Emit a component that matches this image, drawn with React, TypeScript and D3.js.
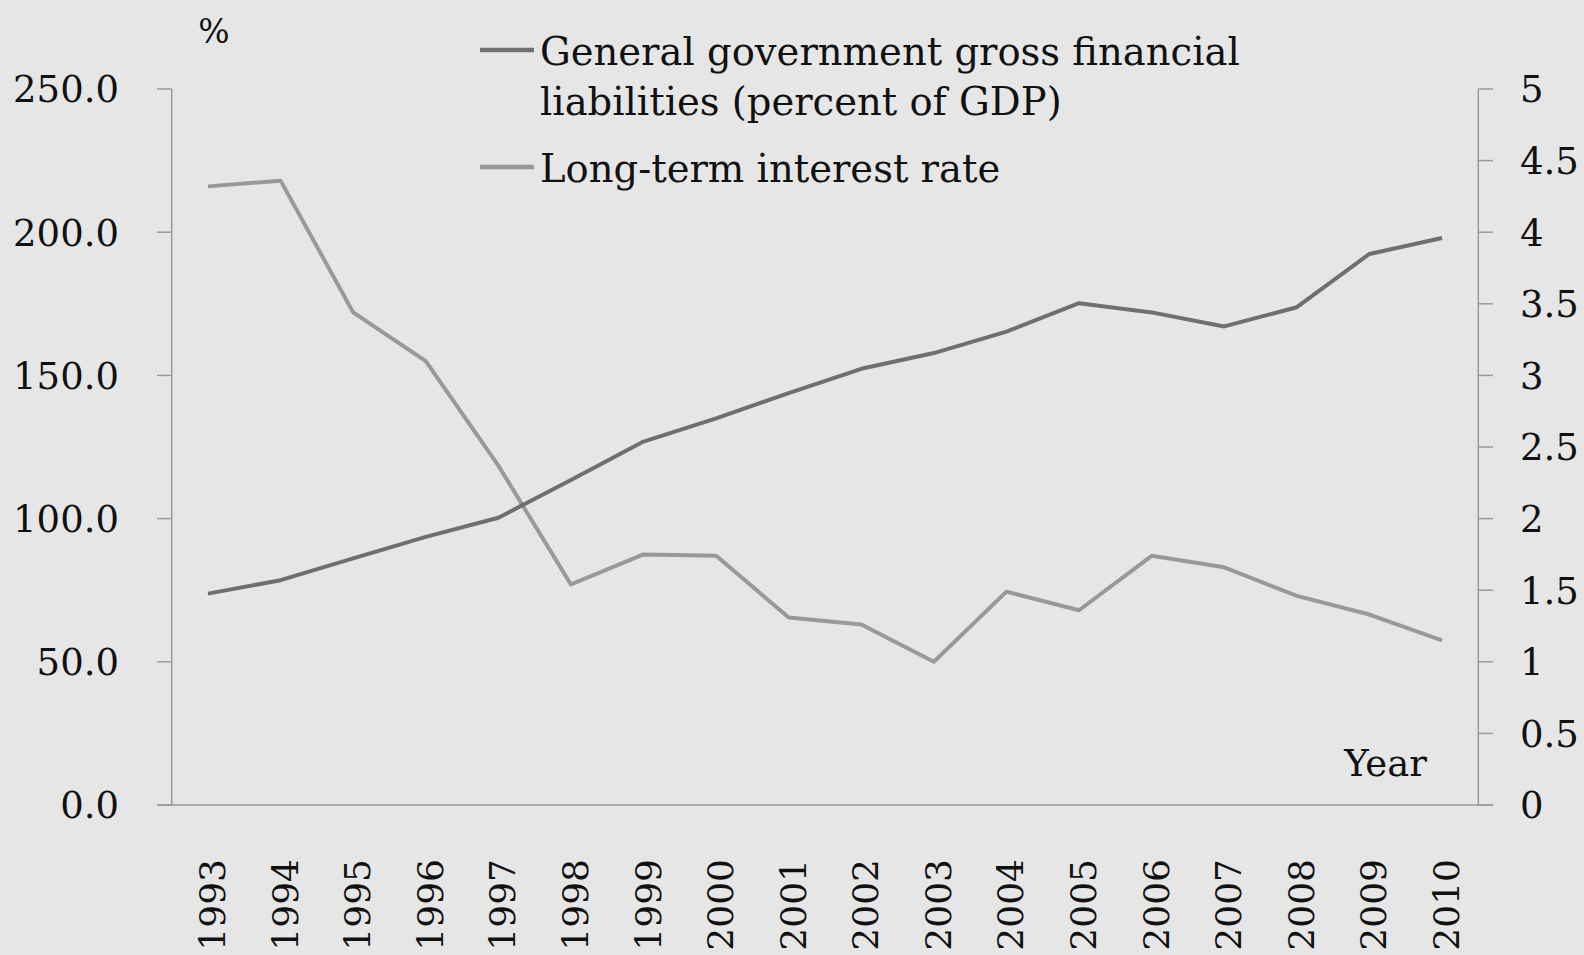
import React from "react";
import * as d3 from "d3";

const years = ["1993","1994","1995","1996","1997","1998","1999","2000","2001","2002","2003","2004","2005","2006","2007","2008","2009","2010"];
const debt = [73.8, 78.5, 86.1, 93.6, 100.3, 113.5, 126.9, 135.0, 143.8, 152.3, 157.8, 165.3, 175.2, 172.0, 167.1, 173.8, 192.4, 198.0];
const rate = [4.32, 4.36, 3.44, 3.10, 2.37, 1.54, 1.75, 1.74, 1.31, 1.26, 1.00, 1.49, 1.36, 1.74, 1.66, 1.46, 1.33, 1.15];
const leftTicks = [0, 50, 100, 150, 200, 250];
const rightTicks = [0, 0.5, 1, 1.5, 2, 2.5, 3, 3.5, 4, 4.5, 5];
const legendLines = [
  { label: ["General government gross financial", "liabilities (percent of GDP)"], color: "#6f6f6f" },
  { label: ["Long-term interest rate"], color: "#999999" },
];

const W = 1584, H = 955;
const L = 171.7, R = 1478.3, T = 89, B = 805;
const FONT = "'DejaVu Serif', serif";

export default function App() {
  const x = d3.scalePoint<string>().domain(years).range([L, R]).padding(0.5);
  const yL = d3.scaleLinear().domain([0, 250]).range([B, T]);
  const yR = d3.scaleLinear().domain([0, 5]).range([B, T]);
  const debtLine = d3.line<number>().x((_, i) => x(years[i])!).y(d => yL(d));
  const rateLine = d3.line<number>().x((_, i) => x(years[i])!).y(d => yR(d));
  const axisColor = "#9a9a9a";

  return (
    <svg width={W} height={H} style={{ position: "absolute", left: 0, top: 0, background: "#e6e6e6" }} fontFamily={FONT}>
      <rect x={0} y={0} width={W} height={H} fill="#e6e6e6" />
      {/* left axis */}
      <line x1={L} x2={L} y1={T} y2={B} stroke={axisColor} strokeWidth={1.5} />
      {leftTicks.map(t => (
        <g key={"l" + t}>
          <line x1={157} x2={L} y1={yL(t)} y2={yL(t)} stroke={axisColor} strokeWidth={1.5} />
          <text x={119} y={yL(t)} dy="0.36em" textAnchor="end" fontSize={37} fill="#111">{t.toFixed(1)}</text>
        </g>
      ))}
      {/* right axis */}
      <line x1={R} x2={R} y1={T} y2={B} stroke={axisColor} strokeWidth={1.5} />
      {rightTicks.map(t => (
        <g key={"r" + t}>
          <line x1={R} x2={1493} y1={yR(t)} y2={yR(t)} stroke={axisColor} strokeWidth={1.5} />
          <text x={1520} y={yR(t)} dy="0.36em" textAnchor="start" fontSize={37} fill="#111">{String(t)}</text>
        </g>
      ))}
      {/* bottom axis */}
      <line x1={157} x2={1493} y1={B} y2={B} stroke={axisColor} strokeWidth={1.5} />
      {years.map(yr => (
        <text key={yr} transform={`translate(${x(yr)! + 17},859) rotate(-90)`} textAnchor="end" fontSize={36} fill="#111">{yr}</text>
      ))}
      {/* series */}
      <path d={rateLine(rate)!} fill="none" stroke={legendLines[1].color} strokeWidth={4} strokeLinejoin="round" />
      <path d={debtLine(debt)!} fill="none" stroke={legendLines[0].color} strokeWidth={4} strokeLinejoin="round" />
      {/* axis titles */}
      <text x={214} y={43} textAnchor="middle" fontSize={33} fill="#111">%</text>
      <text x={1427} y={776} textAnchor="end" fontSize={37} fill="#111">Year</text>
      {/* legend */}
      <line x1={480} x2={534} y1={50} y2={50} stroke={legendLines[0].color} strokeWidth={4.5} />
      <text x={540} y={65} fontSize={38.5} fill="#111">{legendLines[0].label[0]}</text>
      <text x={540} y={115} fontSize={38.5} fill="#111">{legendLines[0].label[1]}</text>
      <line x1={480} x2={534} y1={167} y2={167} stroke={legendLines[1].color} strokeWidth={4.5} />
      <text x={540} y={182} fontSize={38.5} fill="#111">{legendLines[1].label[0]}</text>
    </svg>
  );
}
